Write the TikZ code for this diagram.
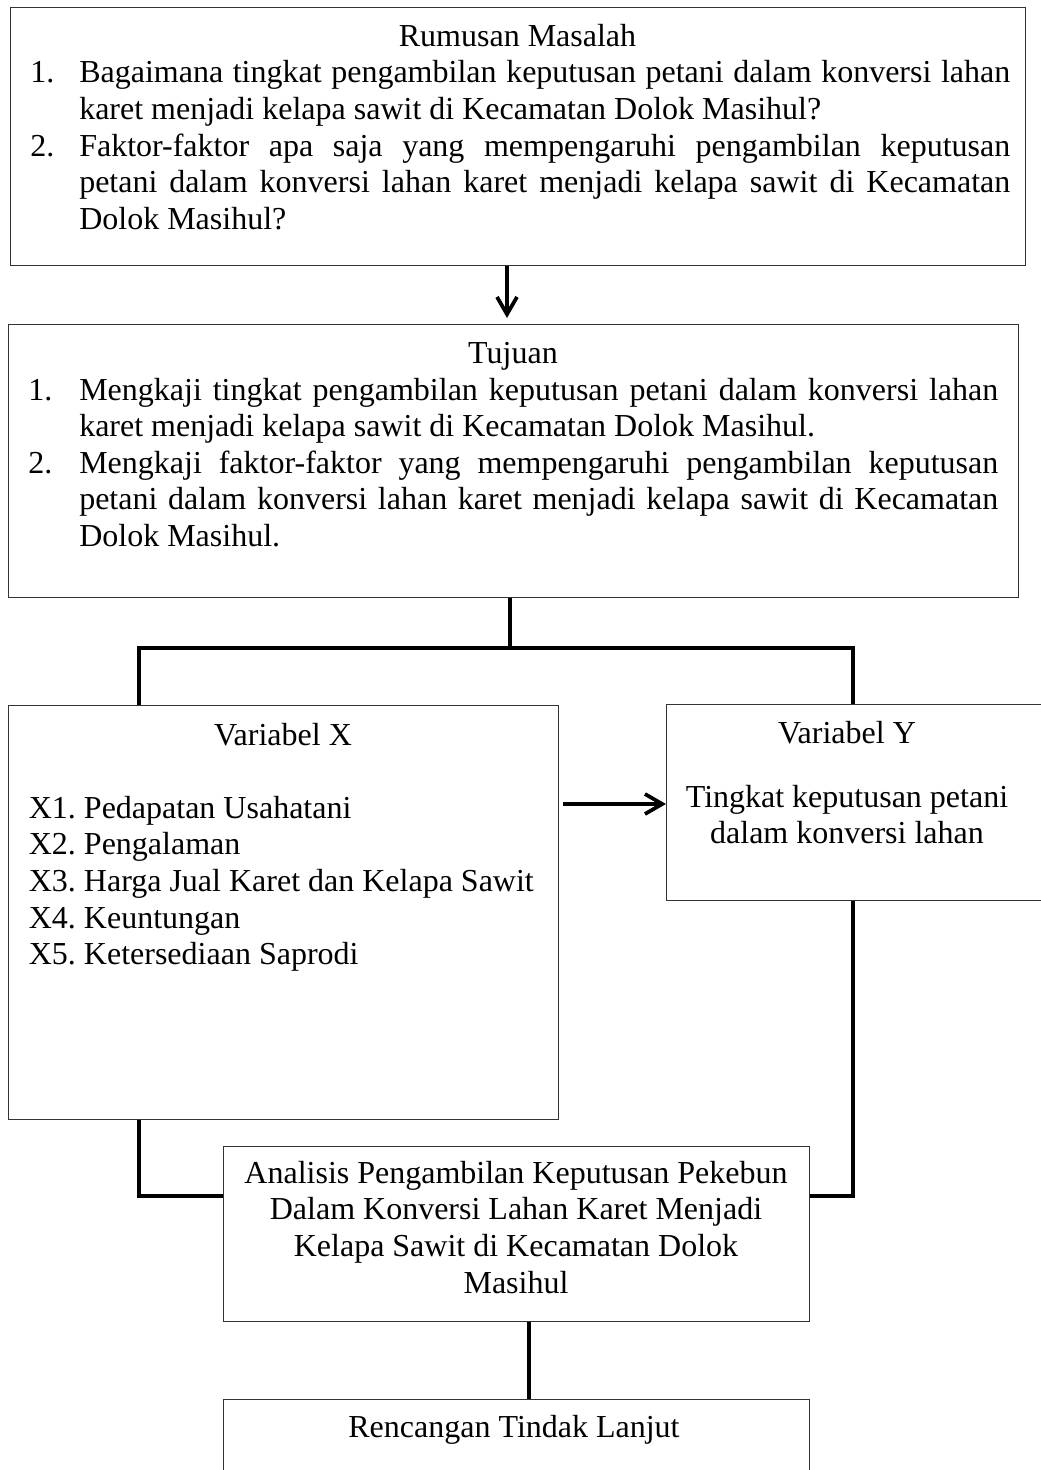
\documentclass[tikz,border=0pt]{standalone}
\usepackage{fontspec}
\setmainfont{Liberation Serif}
\usetikzlibrary{arrows.meta}
\hyphenpenalty=10000\relax
\exhyphenpenalty=10000\relax
\tolerance=10000\relax
\frenchspacing
\begin{document}
\begin{tikzpicture}[x=0.75pt,y=-0.75pt,
  box/.style={draw=black!80, line width=0.9pt, inner sep=0pt, anchor=north west},
  conn/.style={line width=2.8pt, draw=black},
  arr/.style={conn, -{Straight Barb[length=13pt,width=15pt]}},
  txt/.style={inner sep=0pt, font=\fontsize{24pt}{27.5pt}\selectfont\frenchspacing}
]
\useasboundingbox (0,0) rectangle (1041,1470);
\clip (0,0) rectangle (1041,1470);
\fill[white] (0,0) rectangle (1041,1470);

% boxes
\node[box, minimum width=761.25pt, minimum height=193.5pt] (b1) at (10,7) {};
\node[box, minimum width=757.5pt, minimum height=204.75pt] (b2) at (8,324) {};
\node[box, minimum width=412.5pt, minimum height=310.5pt] (bx) at (8,705) {};
\node[box, minimum width=337.5pt, minimum height=147pt] (by) at (666,704) {};
\node[box, minimum width=439.5pt, minimum height=131.25pt] (ba) at (223,1146) {};
\node[box, minimum width=439.5pt, minimum height=90pt] (br) at (223,1399) {};

% texts box 1
\node[txt, anchor=base] (t1) at (517.5,46.7) {Rumusan Masalah};
\node[txt, anchor=base west] (n11) at (30,82.7) {1.};
\node[txt, anchor=base west] (p11) at (79,82.7) {\parbox[t]{698.25pt}{Bagaimana tingkat pengambilan keputusan petani dalam konversi lahan\linebreak karet menjadi kelapa sawit di Kecamatan Dolok Masihul?}};
\node[txt, anchor=base west] (n12) at (30,156) {2.};
\node[txt, anchor=base west] (p12) at (79,156) {\parbox[t]{698.25pt}{Faktor-faktor apa saja yang mempengaruhi pengambilan keputusan\linebreak petani dalam konversi lahan karet menjadi kelapa sawit di Kecamatan\linebreak Dolok Masihul?}};

% texts box 2
\node[txt, anchor=base] (t2) at (513,363) {Tujuan};
\node[txt, anchor=base west] (n21) at (28,400) {1.};
\node[txt, anchor=base west] (p21) at (79,400) {\parbox[t]{689.25pt}{Mengkaji tingkat pengambilan keputusan petani dalam konversi lahan\linebreak karet menjadi kelapa sawit di Kecamatan Dolok Masihul.}};
\node[txt, anchor=base west] (n22) at (28,473) {2.};
\node[txt, anchor=base west] (p22) at (79,473) {\parbox[t]{689.25pt}{Mengkaji faktor-faktor yang mempengaruhi pengambilan keputusan\linebreak petani dalam konversi lahan karet menjadi kelapa sawit di Kecamatan\linebreak Dolok Masihul.}};

% variabel X
\node[txt, anchor=base] (tx) at (283,745) {Variabel X};
\node[txt, anchor=base west] (lx) at (28.6,818) {\parbox[t]{400pt}{X1. Pedapatan Usahatani\\X2. Pengalaman\\X3. Harga Jual Karet dan Kelapa Sawit\\X4. Keuntungan\\X5. Ketersediaan Saprodi}};

% variabel Y
\node[txt, anchor=base] (ty) at (847,743) {Variabel Y};
\node[txt, anchor=base] (ly) at (847,807) {\parbox[t]{280pt}{\centering Tingkat keputusan petani\\dalam konversi lahan}};

% analisis
\node[txt, anchor=base] (la) at (516,1183) {\parbox[t]{430pt}{\centering Analisis Pengambilan Keputusan Pekebun\\Dalam Konversi Lahan Karet Menjadi\\Kelapa Sawit di Kecamatan Dolok\\Masihul}};

% rencangan
\node[txt, anchor=base] (lr) at (514,1437) {Rencangan Tindak Lanjut};

% helper coordinates
\coordinate (xa) at (507,0);
\coordinate (xb) at (510,0);
\coordinate (xl) at (139,0);
\coordinate (xr) at (853,0);
\coordinate (xc) at (529,0);
\coordinate (yj) at (0,648);
\coordinate (yk) at (0,1196);
\coordinate (ya) at (0,804);

% connectors
\draw[arr, shorten >=4.5pt] (b1.south -| xa) -- (b2.north -| xa);
\draw[conn] (b2.south -| xb) -- (xb |- yj);
\draw[conn] (bx.north -| xl) -- (xl |- yj) -- (xr |- yj) -- (by.north -| xr);
\draw[arr, shorten <=3pt] (bx.east |- ya) -- (by.west |- ya);
\draw[conn] (bx.south -| xl) -- (xl |- yk) -- (ba.west |- yk);
\draw[conn] (by.south -| xr) -- (xr |- yk) -- (ba.east |- yk);
\draw[conn] (ba.south -| xc) -- (br.north -| xc);
\end{tikzpicture}
\end{document}
